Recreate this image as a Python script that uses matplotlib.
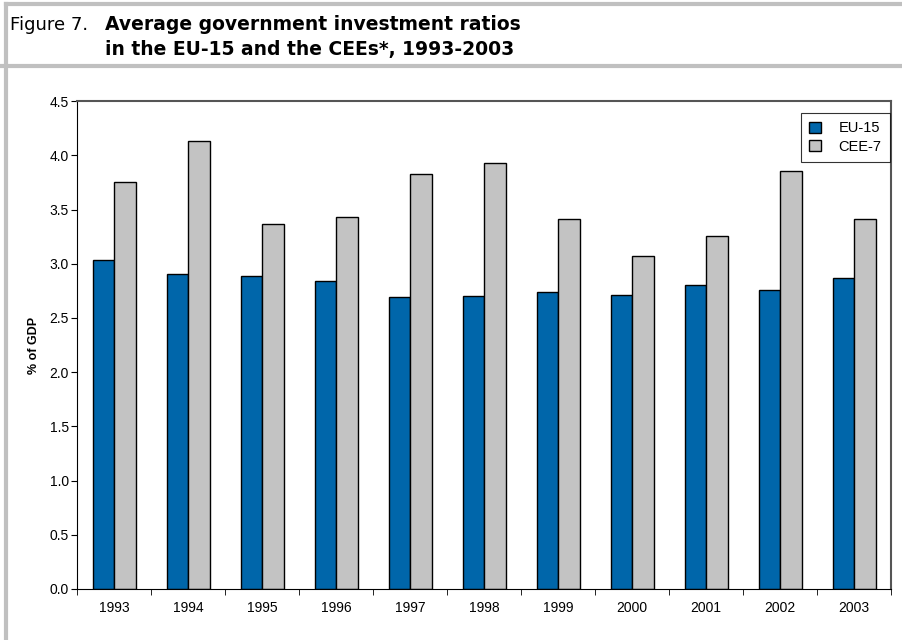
import numpy as np
import matplotlib.pyplot as plt
from matplotlib.lines import Line2D

years = ["1993", "1994", "1995", "1996", "1997", "1998",
         "1999", "2000", "2001", "2002", "2003"]
eu15 = [3.03, 2.91, 2.89, 2.84, 2.69, 2.70, 2.74, 2.71, 2.80, 2.76, 2.87]
cee7 = [3.75, 4.13, 3.37, 3.43, 3.83, 3.93, 3.41, 3.07, 3.26, 3.86, 3.41]

fig = plt.figure(figsize=(9.02, 6.4), dpi=100)

# grey frame around the figure and under the title
grey = "#c0c0c0"
fig.add_artist(Line2D([0.0065, 1.0], [0.993, 0.993], color=grey, lw=3, transform=fig.transFigure))
fig.add_artist(Line2D([0.0, 1.0], [0.897, 0.897], color=grey, lw=3, transform=fig.transFigure))
fig.add_artist(Line2D([0.0065, 0.0065], [0.0, 0.993], color=grey, lw=3, transform=fig.transFigure))

fig.text(0.011, 0.953, "Figure 7.", fontsize=13, family="DejaVu Sans", va="baseline")
fig.text(0.116, 0.953, "Average government investment ratios", fontsize=13.5,
         fontweight="bold", family="DejaVu Sans", va="baseline")
fig.text(0.116, 0.914, "in the EU-15 and the CEEs*, 1993-2003", fontsize=13.5,
         fontweight="bold", family="DejaVu Sans", va="baseline")

ax = fig.add_axes([0.0854, 0.0797, 0.9026, 0.7623])
x = np.arange(len(years))
w = 0.29
ax.bar(x - w / 2, eu15, w, color="#0066aa", edgecolor="black", lw=1, label="EU-15")
ax.bar(x + w / 2, cee7, w, color="#c3c3c3", edgecolor="black", lw=1, label="CEE-7")

ax.set_xlim(-0.5, len(years) - 0.5)
ax.set_ylim(0, 4.5)
ax.set_yticks(np.arange(0, 4.51, 0.5))
ax.set_yticklabels([f"{v:.1f}" for v in np.arange(0, 4.51, 0.5)],
                   fontsize=10, family="Liberation Sans")
ax.set_xticks(x)
ax.set_xticklabels(years, fontsize=10, family="Liberation Sans")
ax.tick_params(axis="x", length=0, pad=9)
ax.set_xticks(np.arange(-0.5, len(years)), minor=True)
ax.tick_params(axis="x", which="minor", length=4, direction="out")
ax.tick_params(axis="y", length=4, direction="out", pad=2)
ax.set_ylabel("% of GDP", fontsize=9, fontweight="bold", family="Liberation Sans", labelpad=7)

for side in ["top", "right"]:
    ax.spines[side].set_color("#555555")
    ax.spines[side].set_linewidth(1.5)

leg = ax.legend(loc="upper right", bbox_to_anchor=(0.998, 0.975), fancybox=False,
                edgecolor="black", handlelength=0.8, handleheight=0.8,
                borderpad=0.55, labelspacing=0.3, handletextpad=1.2, borderaxespad=0,
                prop={"family": "Liberation Sans", "size": 10.5})
leg.get_frame().set_linewidth(0.8)

fig.savefig("out.png", dpi=100)
